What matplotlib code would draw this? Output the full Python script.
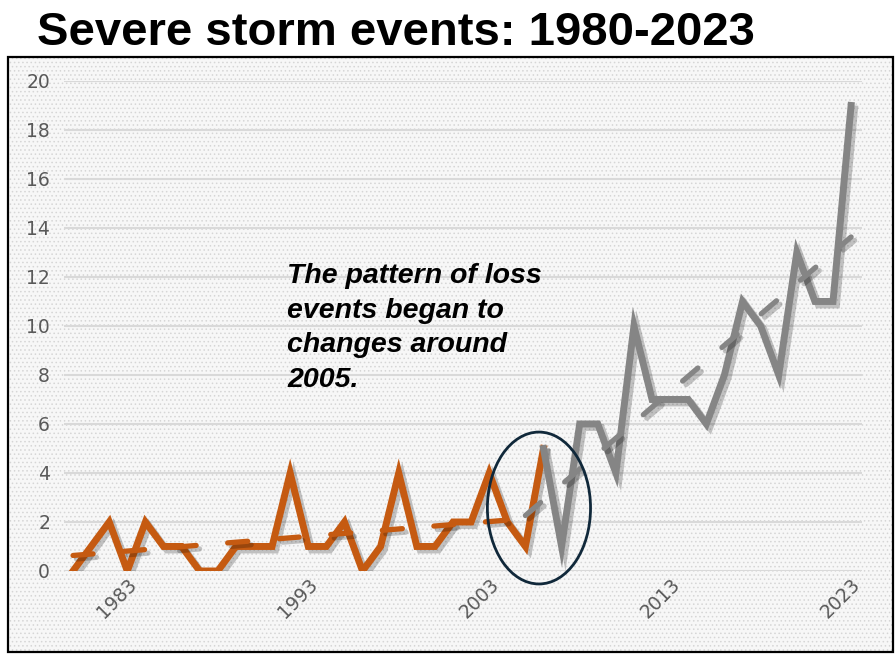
import matplotlib.pyplot as plt
import matplotlib.patheffects as pe
from matplotlib.patches import Rectangle, Ellipse
import numpy as np

# severe storm loss events per year
years = list(range(1980, 2024))
events = [0, 1, 2, 0, 2, 1, 1, 0, 0, 1,
          1, 1, 4, 1, 1, 2, 0, 1, 4, 1,
          1, 2, 2, 4, 2, 1, 5, 1, 6, 6,
          4, 10, 7, 7, 7, 6, 8, 11, 10, 8,
          13, 11, 11, 19]
split_year = 2006
tick_years = [1983, 1993, 2003, 2013, 2023]
title = "Severe storm events: 1980-2023"
note = "The pattern of loss\nevents began to\nchanges around\n2005."

ORANGE = "#C55A11"
GRAY = "#858585"

yrs = np.array(years)
ev = np.array(events)

fig = plt.figure(figsize=(8.96, 6.56), dpi=100)
fig.patch.set_facecolor("white")

# dotted panel + black frame
plt.rcParams["hatch.linewidth"] = 0.6
fig.patches.append(Rectangle((0.009, 0.006), 0.988, 0.907, transform=fig.transFigure,
                             facecolor="#f7f7f7", edgecolor="#d6d6d6", hatch="....",
                             lw=0, zorder=-2))
fig.patches.append(Rectangle((0.009, 0.006), 0.988, 0.907, transform=fig.transFigure,
                             facecolor="none", edgecolor="black", lw=1.6, zorder=-1))

fig.text(0.041, 0.931, title, fontsize=34, fontweight="bold",
         family="Liberation Sans")

ax = fig.add_axes([0.0714, 0.1296, 0.8906, 0.747])
ax.set_facecolor("none")

shadow = [pe.SimpleLineShadow(offset=(2.5, -2.5), shadow_color="black", alpha=0.22), pe.Normal()]

m1 = yrs <= split_year
m2 = yrs >= split_year
ax.plot(yrs[m1], ev[m1], color=ORANGE, lw=5, solid_joinstyle="miter",
        path_effects=shadow, zorder=3)
ax.plot(yrs[m2], ev[m2], color=GRAY, lw=5, solid_joinstyle="miter",
        path_effects=shadow, zorder=4)

# linear trends
t1 = (yrs >= 1980) & (yrs <= 2005)
t2 = (yrs >= 2005)
c1 = np.polyfit(yrs[t1], ev[t1], 1)
c2 = np.polyfit(yrs[t2], ev[t2], 1)
ax.plot(yrs[t1], np.polyval(c1, yrs[t1]), color=ORANGE, lw=3.8, ls=(0, (3.8, 6)),
        dash_capstyle="round", path_effects=shadow, zorder=3)
ax.plot(yrs[t2], np.polyval(c2, yrs[t2]), color=GRAY, lw=3.8, ls=(0, (3.8, 6)),
        dash_capstyle="round", path_effects=shadow, zorder=4)

ax.add_patch(Ellipse((2005.75, 2.57), 5.7, 6.2, facecolor="none",
                     edgecolor="#10283a", lw=2, clip_on=False, zorder=5))

ax.text(1991.85, 12.55, note, fontsize=20.5, fontweight="bold", style="italic",
        family="Liberation Sans", va="top", ha="left", linespacing=1.42)

ax.set_xlim(1979.5, 2023.6)
ax.set_ylim(0, 20)
ax.set_yticks(range(0, 21, 2))
ax.set_xticks(tick_years)
ax.set_xticklabels([str(y) for y in tick_years], rotation=45, ha="right",
                   va="top", rotation_mode="anchor")
ax.grid(axis="y", color="#d9d9d9", lw=1.5)
ax.grid(axis="x", visible=False)
ax.set_axisbelow(True)
ax.tick_params(length=0, labelsize=13.5, colors="#595959")
ax.tick_params(axis="y", pad=10)
ax.tick_params(axis="x", pad=3)
for lab in ax.get_xticklabels() + ax.get_yticklabels():
    lab.set_family("DejaVu Sans")
for s in ax.spines.values():
    s.set_visible(False)

fig.savefig("out.png", dpi=100)
